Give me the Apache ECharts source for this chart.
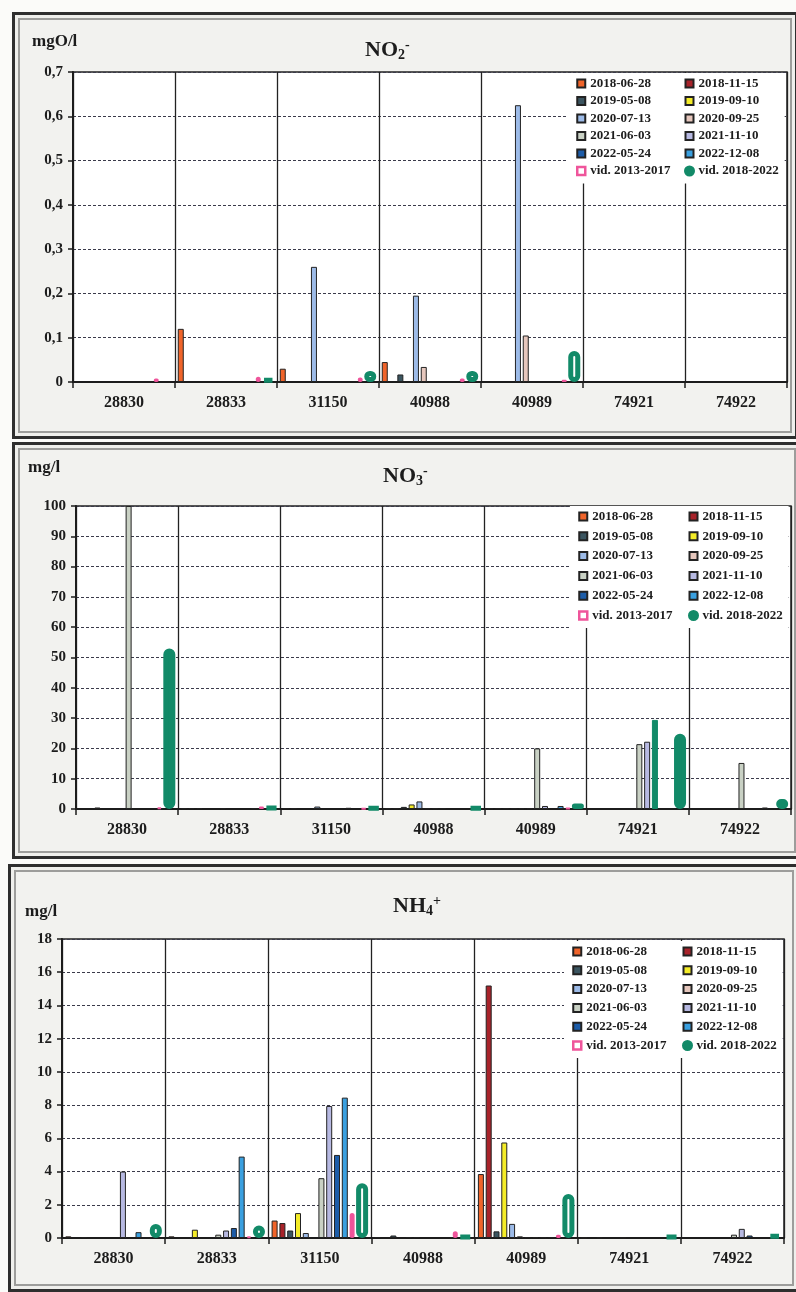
<!DOCTYPE html>
<html>
<head>
<meta charset="utf-8">
<script src="https://cdn.jsdelivr.net/npm/echarts@6.0.0/dist/echarts.min.js"></script>
<style>
  html, body { margin: 0; padding: 0; background: #fbfbf9; }
  body { width: 796px; height: 1292px; position: relative; overflow: hidden; }
  .panel {
    position: absolute; box-sizing: border-box; background: #f2f2ef;
    border: 3px solid #2e2e2e;
    box-shadow: inset 0 0 0 3px #efefec, inset 0 0 0 5px #9d9d9b;
  }
  .chart { position: absolute; left: 0; width: 796px; }
</style>
</head>
<body>
<div class="panel" style="left:12px;top:12px;width:786px;height:427px"></div>
<div class="panel" style="left:12px;top:442px;width:790px;height:417px"></div>
<div class="panel" style="left:8px;top:864px;width:792px;height:428px"></div>
<div id="c1" class="chart" style="top:12px;height:426px"></div>
<div id="c2" class="chart" style="top:443px;height:415px"></div>
<div id="c3" class="chart" style="top:864px;height:426px"></div>
<script>
// Monitoring wells along the x axis
const categories = ['28830', '28833', '31150', '40988', '40989', '74921', '74922'];

// Sampling dates plus the two period averages
const seriesNames = [
  '2018-06-28', '2018-11-15', '2019-05-08', '2019-09-10', '2020-07-13',
  '2020-09-25', '2021-06-03', '2021-11-10', '2022-05-24', '2022-12-08',
  'vid. 2013-2017', 'vid. 2018-2022'
];

// NO2- , mgO/l  (one row per entry of seriesNames)
const no2Values = [
  [null, 0.12, 0.03, 0.045, null, null, null],
  [null, null, null, null, null, null, null],
  [null, null, null, 0.017, null, null, null],
  [null, null, null, null, null, null, null],
  [null, null, 0.26, 0.195, 0.625, null, null],
  [null, null, null, 0.034, 0.105, null, null],
  [null, null, null, null, null, null, null],
  [null, null, null, null, null, null, null],
  [null, null, null, null, null, null, null],
  [null, null, null, null, null, null, null],
  [0.008, 0.012, 0.01, 0.008, 0.005, null, null],
  [null, 0.008, 0.025, 0.025, 0.07, null, null]
];

// NO3- , mg/l
const no3Values = [
  [null, 0.3, 0.2, 0.3, 0.2, null, null],
  [null, 0.3, 0.2, 0.3, 0.2, null, null],
  [0.5, 0.3, null, 0.7, 0.2, null, null],
  [null, null, null, 1.5, 0.2, null, null],
  [null, null, 0.8, 2.5, 0.2, null, null],
  [null, 0.3, null, 0.3, 0.3, null, null],
  [100, null, null, 0.3, 20, 21.4, 15.2],
  [null, null, null, 0.2, 1.0, 22.2, null],
  [null, null, 0.4, null, null, 29.4, null],
  [null, 0.2, null, null, 1.0, null, 0.5],
  [0.5, 0.8, 0.2, null, 0.3, null, null],
  [53, 0.6, 0.5, 0.5, 1.8, 24.8, 3.3]
];

// NH4+ , mg/l
const nh4Values = [
  [0.1, 0.1, 1.05, 0.05, 3.85, 0.02, null],
  [null, null, 0.9, null, 15.2, null, null],
  [0.05, null, 0.45, 0.15, 0.4, 0.02, null],
  [null, 0.5, 1.5, null, 5.75, null, null],
  [null, null, 0.3, 0.05, 0.85, null, null],
  [null, null, null, 0.05, 0.1, 0.02, null],
  [null, 0.2, 3.6, null, 0.05, null, 0.2],
  [4.0, 0.45, 7.95, null, 0.05, null, 0.55],
  [null, 0.6, 5.0, null, 0.05, null, 0.15],
  [0.35, 4.9, 8.45, null, 0.05, null, null],
  [null, 0.1, 1.5, 0.4, 0.2, null, null],
  [0.85, 0.75, 3.3, 0.12, 2.65, 0.12, 0.2]
];

const SERIF = '"Liberation Serif", "DejaVu Serif", serif';
const INK = '#1c1c1c';
const PINK = '#ef559b';
const GREEN = '#128a68';
const palette = [
  '#f0642a', '#a8232a', '#3b5560', '#f4ec28', '#9dbbe8',
  '#e6c7bd', '#c9d1c4', '#b7b9e2', '#1c5ca8', '#3aa0e0', PINK, GREEN
];

function buildChart(el, cfg) {
  const chart = echarts.init(el, null, { renderer: 'canvas' });

  const series = seriesNames.map((name, i) => {
    let itemStyle;
    let barWidth = 6;
    if (i === 10) {
      itemStyle = { color: PINK, borderColor: PINK, borderWidth: 2, borderRadius: 2 };
      barWidth = 5;
    } else if (i === 11) {
      itemStyle = { color: cfg.hollowAvg ? '#ffffff' : GREEN, borderColor: GREEN, borderWidth: 5, borderRadius: 5 };
      barWidth = 12;
    } else {
      itemStyle = { color: palette[i], borderColor: '#222', borderWidth: 1 };
    }
    const data = cfg.values[i].map((v, j) => {
      const hl = (cfg.highlight || []).find(h => h.series === i && h.cat === j);
      return hl ? { value: v, itemStyle: { color: hl.color, borderColor: hl.color } } : v;
    });
    return {
      type: 'bar', name, data, itemStyle, barWidth,
      barGap: '30%',
      emphasis: { disabled: true }, animation: false,
      z: i >= 10 ? 3 : 2
    };
  });

  const legendItem = (i) => {
    if (i === 10) return { name: seriesNames[i], icon: 'rect', itemStyle: { color: '#fff', borderColor: PINK, borderWidth: 2.5 } };
    if (i === 11) return { name: seriesNames[i], icon: 'circle', itemStyle: { color: GREEN, borderColor: GREEN, borderWidth: 3 } };
    return { name: seriesNames[i], icon: 'rect' };
  };
  const legendBase = {
    orient: 'vertical', selectedMode: false, itemWidth: 8, itemHeight: 8,
    itemGap: cfg.legendGap, backgroundColor: '#ffffff',
    textStyle: { fontFamily: SERIF, fontWeight: 'bold', fontSize: 13, color: INK }
  };

  chart.setOption({
    animation: false,
    title: {
      text: cfg.title, left: cfg.titlePos[0], top: cfg.titlePos[1], padding: 0,
      textStyle: {
        fontFamily: SERIF, fontWeight: 'bold', fontSize: 22, color: INK,
        rich: {
          sub: { fontFamily: SERIF, fontWeight: 'bold', fontSize: 14, color: INK, verticalAlign: 'bottom', padding: [10, 0, 0, 0] },
          sup: { fontFamily: SERIF, fontWeight: 'bold', fontSize: 14, color: INK, verticalAlign: 'top', padding: [0, 0, 10, 0] }
        }
      }
    },
    graphic: [{
      type: 'text', left: cfg.unitPos[0], top: cfg.unitPos[1],
      style: { text: cfg.unit, font: 'bold 17px ' + SERIF, fill: INK }
    }],
    legend: [
      Object.assign({}, legendBase, {
        left: cfg.legendLeft[0], top: cfg.legendTop, padding: [4, 14, 6, 8],
        data: [0, 2, 4, 6, 8, 10].map(legendItem)
      }),
      Object.assign({}, legendBase, {
        left: cfg.legendLeft[1], top: cfg.legendTop, padding: [4, 6, 6, 6],
        data: [1, 3, 5, 7, 9, 11].map(legendItem)
      })
    ],
    grid: Object.assign({
      show: true, backgroundColor: '#ffffff', borderColor: '#222', borderWidth: 1.5,
      outerBoundsMode: 'none', containLabel: false
    }, cfg.grid),
    xAxis: {
      type: 'category', data: categories, boundaryGap: true,
      axisLine: { show: true, onZero: true, lineStyle: { color: INK, width: 2 } },
      axisTick: { show: true, length: 6, alignWithLabel: false, lineStyle: { color: INK, width: 1.5 } },
      splitLine: { show: true, lineStyle: { color: '#222', width: 1.3, type: 'solid' } },
      axisLabel: { margin: 13, interval: 0, fontFamily: SERIF, fontWeight: 'bold', fontSize: 16, color: INK }
    },
    yAxis: {
      type: 'value', min: 0, max: cfg.yMax, interval: cfg.yInterval,
      axisLine: { show: true, lineStyle: { color: INK, width: 2 } },
      axisTick: { show: true, length: 5, inside: false, lineStyle: { color: INK, width: 1.5 } },
      splitLine: { show: true, lineStyle: { color: '#3b3b4a', width: 1, type: [3, 2] } },
      axisLabel: {
        margin: 10, fontFamily: SERIF, fontWeight: 'bold', fontSize: 15, color: INK,
        formatter: v => v === 0 ? '0' : v.toFixed(cfg.decimals).replace('.', ',')
      }
    },
    series
  });
  return chart;
}

buildChart(document.getElementById('c1'), {
  values: no2Values, yMax: 0.7, yInterval: 0.1, decimals: 1, hollowAvg: true,
  title: 'NO{sub|2}{sup|-}', titlePos: [365, 26], unit: 'mgO/l', unitPos: [32, 21],
  grid: { left: 73, right: 9, top: 60, bottom: 56 },
  legendLeft: [568, 678], legendTop: 61, legendGap: 4.5
});

buildChart(document.getElementById('c2'), {
  values: no3Values, yMax: 100, yInterval: 10, decimals: 0, hollowAvg: false,
  title: 'NO{sub|3}{sup|-}', titlePos: [383, 21], unit: 'mg/l', unitPos: [28, 16],
  grid: { left: 76, right: 5, top: 63, bottom: 49 },
  legendLeft: [570, 682], legendTop: 63, legendGap: 6.8,
  highlight: [{ series: 8, cat: 5, color: GREEN }]
});

buildChart(document.getElementById('c3'), {
  values: nh4Values, yMax: 18, yInterval: 2, decimals: 0, hollowAvg: true,
  title: 'NH{sub|4}{sup|+}', titlePos: [393, 30], unit: 'mg/l', unitPos: [25, 39],
  grid: { left: 62, right: 12, top: 75, bottom: 52 },
  legendLeft: [564, 676], legendTop: 77, legendGap: 5.8
});
</script>
</body>
</html>
